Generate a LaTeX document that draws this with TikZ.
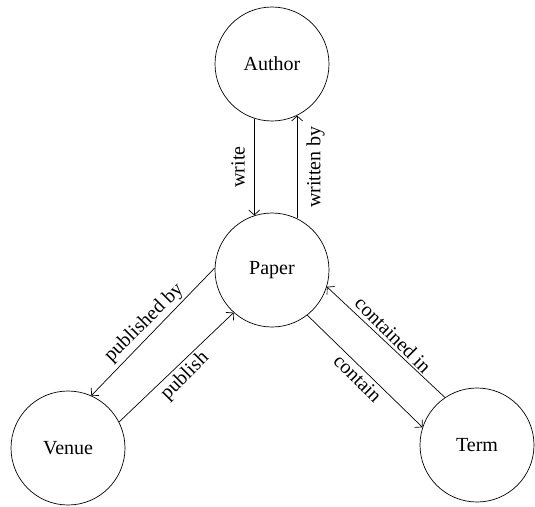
\documentclass[tikz,border=0pt]{standalone}
\usepackage{fontspec}
\setmainfont{Liberation Serif}
\usetikzlibrary{arrows.meta}
\begin{document}
\begin{tikzpicture}[x=1pt,y=-1pt,
  every node/.style={font=\fontsize{20}{23}\selectfont},
  entity/.style={draw, circle, line width=0.7pt, minimum size=114pt, inner sep=0pt},
  rel/.style={-{Straight Barb[length=5pt,width=11pt]}, line width=0.7pt}]
  \useasboundingbox (0,0) rectangle (535,506);
  \node[entity] (author) at (272,64) {Author};
  \node[entity] (paper) at (272,270) {Paper};
  \node[entity] (venue) at (68,448) {Venue};
  \node[entity] (term) at (477,445) {Term};
  \draw[rel] (author.252) -- (paper.108) node[midway, rotate=90, anchor=south, inner sep=9pt] {write};
  \draw[rel] (paper.64) -- (author.296) node[midway, rotate=90, anchor=north, inner sep=9pt] {written by};
  \draw[rel] (paper.178) -- (venue.66) node[midway, rotate=45, anchor=south, inner sep=3pt] {published by};
  \draw[rel] (venue.27) -- (paper.228) node[midway, rotate=45, anchor=north, inner sep=3pt] {publish};
  \draw[rel] (term.124) -- (paper.343) node[midway, rotate=-45, anchor=south, inner sep=3pt] {contained in};
  \draw[rel] (paper.308) -- (term.162) node[midway, rotate=-45, anchor=north, inner sep=3pt] {contain};
\end{tikzpicture}
\end{document}
